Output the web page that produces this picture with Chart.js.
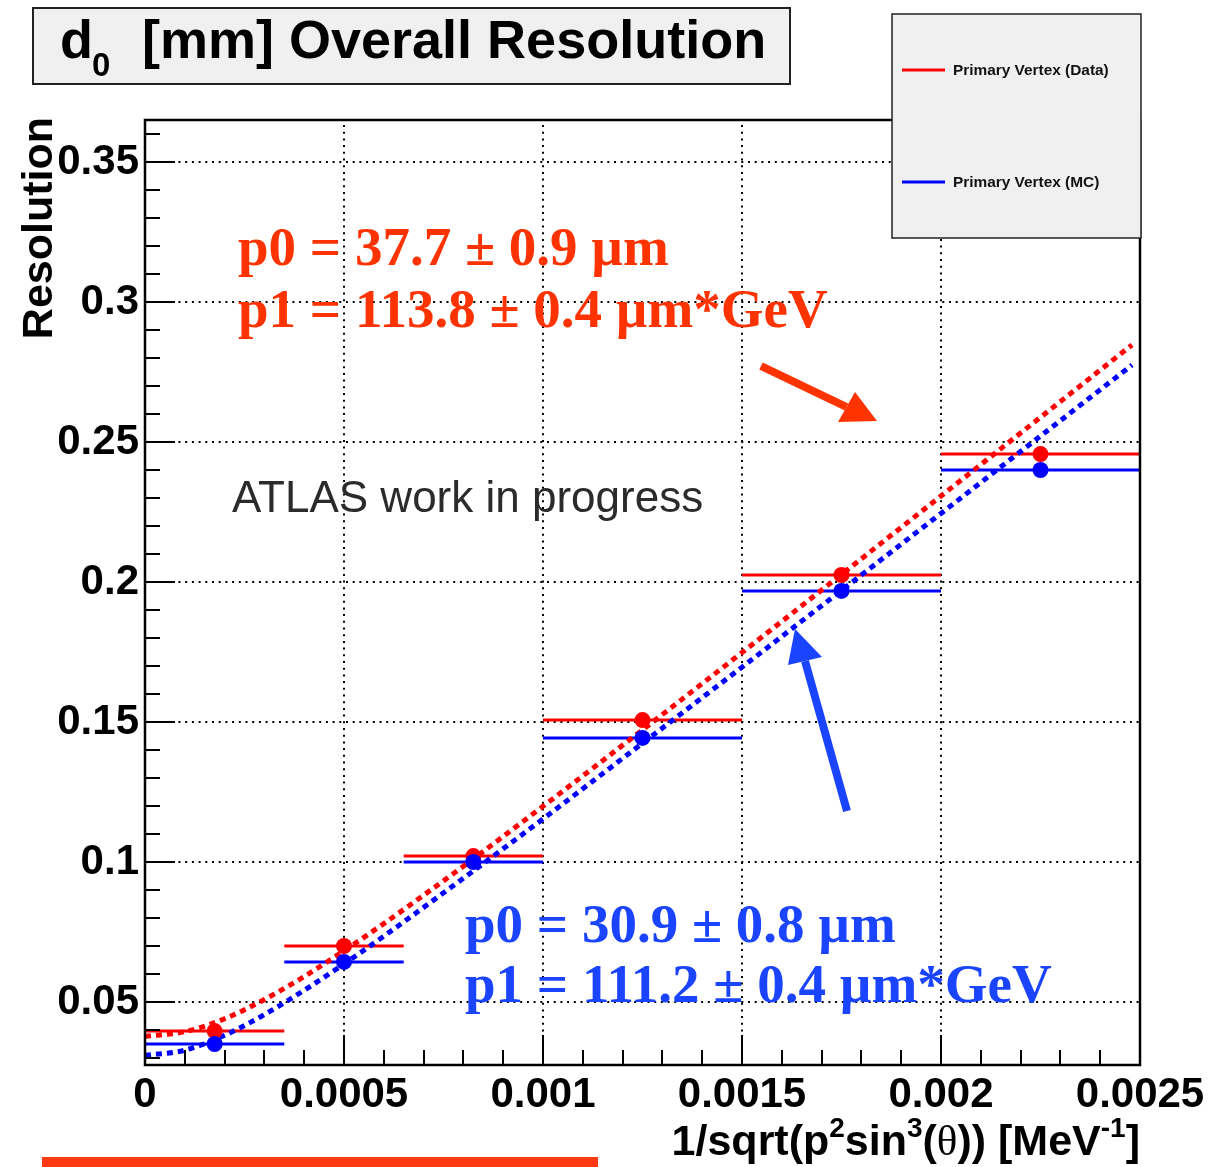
<!DOCTYPE html>
<html><head><meta charset="utf-8">
<script src="https://cdn.jsdelivr.net/npm/chart.js@4.4.1/dist/chart.umd.min.js"></script>
<style>html,body{margin:0;padding:0;background:#fff;}canvas{display:block;}</style>
</head><body>
<canvas id="c" width="1212" height="1167"></canvas>
<script>
// ---- data ----
const binLow    = [0, 0.00035, 0.00065, 0.001, 0.0015, 0.002];
const binHigh   = [0.00035, 0.00065, 0.001, 0.0015, 0.002, 0.0025];
const binCenter = [0.000175, 0.0005, 0.000825, 0.00125, 0.00175, 0.00225];
const dataRes   = [0.0396, 0.0700, 0.1021, 0.1507, 0.2025, 0.2457];
const mcRes     = [0.0350, 0.0643, 0.1000, 0.1443, 0.1968, 0.2400];

const fitX      = [0, 0.0001, 0.0002, 0.0003, 0.0004, 0.0005, 0.0006, 0.0008, 0.001, 0.0012, 0.0015, 0.0018, 0.002, 0.0022, 0.00248];
const dataFit   = [0.0377, 0.0394, 0.0440, 0.0509, 0.0591, 0.0683, 0.0780, 0.0985, 0.1199, 0.1417, 0.1748, 0.2083, 0.2307, 0.2532, 0.2847];
const mcFit     = [0.0309, 0.0328, 0.0381, 0.0455, 0.0542, 0.0636, 0.0735, 0.0942, 0.1154, 0.1370, 0.1696, 0.2025, 0.2245, 0.2466, 0.2775];

const xTickValues = [0, 0.0005, 0.001, 0.0015, 0.002, 0.0025];
const xTickLabels = ['0', '0.0005', '0.001', '0.0015', '0.002', '0.0025'];
const yTickValues = [0.05, 0.1, 0.15, 0.2, 0.25, 0.3, 0.35];
const yTickLabels = ['0.05', '0.1', '0.15', '0.2', '0.25', '0.3', '0.35'];

const seriesNames = ['Primary Vertex (Data)', 'Primary Vertex (MC)'];
const fitTextData = ['p0 = 37.7 ± 0.9 µm', 'p1 = 113.8 ± 0.4 µm*GeV'];
const fitTextMC   = ['p0 = 30.9 ± 0.8 µm', 'p1 = 111.2 ± 0.4 µm*GeV'];
const watermark   = 'ATLAS work in progress';
const yTitle      = 'Resolution';

// ---- styles ----
const RED = '#ff0000', BLUE = '#0000ff';
const RED_TXT = '#ff3300', BLUE_TXT = '#1a44ff';
const SANS = '"Liberation Sans", Arial, Helvetica, sans-serif';
const SERIF = '"Liberation Serif", "Times New Roman", serif';

function binSegments(vals) {
  const out = [];
  vals.forEach((v, i) => {
    out.push({x: binLow[i], y: v});
    out.push({x: binHigh[i], y: v});
    out.push({x: binHigh[i], y: null});
  });
  return out;
}
const pts = vals => vals.map((v, i) => ({x: binCenter[i], y: v}));
const curve = vals => vals.map((v, i) => ({x: fitX[i], y: v}));

function drawArrow(ctx, color, x0, y0, tip, c1, c2) {
  ctx.save();
  ctx.strokeStyle = color; ctx.fillStyle = color; ctx.lineWidth = 8; ctx.lineCap = 'butt';
  const mx = (c1[0] + c2[0]) / 2, my = (c1[1] + c2[1]) / 2;
  ctx.beginPath(); ctx.moveTo(x0, y0); ctx.lineTo(mx, my); ctx.stroke();
  ctx.beginPath(); ctx.moveTo(tip[0], tip[1]); ctx.lineTo(c1[0], c1[1]); ctx.lineTo(c2[0], c2[1]); ctx.closePath(); ctx.fill();
  ctx.restore();
}

const rootPlugin = {
  id: 'rootStyle',
  beforeDraw(chart) {
    const c = chart.ctx; c.save(); c.fillStyle = '#fff'; c.fillRect(0, 0, chart.width, chart.height); c.restore();
  },
  beforeDatasetsDraw(chart) {
    const {ctx, chartArea: a, scales: {x, y}} = chart;
    ctx.save();
    ctx.strokeStyle = '#000'; ctx.lineWidth = 2; ctx.setLineDash([2, 4.7]);
    xTickValues.forEach(v => {
      const px = Math.round(x.getPixelForValue(v));
      ctx.beginPath(); ctx.moveTo(px, a.bottom); ctx.lineTo(px, a.top); ctx.stroke();
    });
    yTickValues.forEach(v => {
      const py = Math.round(y.getPixelForValue(v));
      ctx.beginPath(); ctx.moveTo(a.left, py); ctx.lineTo(a.right, py); ctx.stroke();
    });
    ctx.restore();
  },
  afterDatasetsDraw(chart) {
    const {ctx, chartArea: a, scales: {x, y}} = chart;
    ctx.save();
    // ticks (inside, ROOT style)
    ctx.strokeStyle = '#000'; ctx.lineWidth = 2; ctx.setLineDash([]);
    const xStep = 0.0001, yStep = 0.01;
    for (let k = 1; k < 25; k++) {
      const v = k * xStep;
      const px = Math.round(x.getPixelForValue(v));
      const len = (k % 5 === 0) ? 30 : 15;
      ctx.beginPath(); ctx.moveTo(px, a.bottom); ctx.lineTo(px, a.bottom - len); ctx.stroke();
    }
    for (let k = 3; k <= 36; k++) {
      const v = k * yStep;
      if (v < y.min || v > y.max) continue;
      const py = Math.round(y.getPixelForValue(v));
      const len = (k % 5 === 0) ? 30 : 15;
      ctx.beginPath(); ctx.moveTo(a.left, py); ctx.lineTo(a.left + len, py); ctx.stroke();
    }
    // frame
    ctx.lineWidth = 2.5;
    ctx.strokeRect(a.left, a.top, a.right - a.left, a.bottom - a.top);

    // fit result texts
    ctx.font = 'bold 55px ' + SERIF; ctx.textBaseline = 'alphabetic'; ctx.textAlign = 'left';
    ctx.fillStyle = RED_TXT;
    ctx.fillText(fitTextData[0], 238, 265);
    ctx.fillText(fitTextData[1], 238, 327);
    ctx.fillStyle = BLUE_TXT;
    ctx.fillText(fitTextMC[0], 465, 942);
    ctx.fillText(fitTextMC[1], 465, 1002);

    // arrows
    drawArrow(ctx, RED_TXT, 761, 366, [877, 421], [855, 392], [838, 422]);
    drawArrow(ctx, BLUE_TXT, 847, 811, [795, 629], [788, 665], [822, 657]);

    // watermark
    ctx.font = '44px ' + SANS; ctx.fillStyle = '#2b2b2b';
    ctx.fillText(watermark, 232, 512);

    // legend
    ctx.fillStyle = '#f0f0f0'; ctx.fillRect(892, 14, 249, 224);
    ctx.strokeStyle = '#222'; ctx.lineWidth = 1.5; ctx.strokeRect(892, 14, 249, 224);
    const legY = [70, 182], legC = [RED, BLUE];
    legY.forEach((ly, i) => {
      ctx.strokeStyle = legC[i]; ctx.lineWidth = 3;
      ctx.beginPath(); ctx.moveTo(902, ly); ctx.lineTo(945, ly); ctx.stroke();
      ctx.fillStyle = '#111'; ctx.font = 'bold 15.4px ' + SANS; ctx.textBaseline = 'middle';
      ctx.fillText(seriesNames[i], 953, ly + 1);
    });
    ctx.textBaseline = 'alphabetic';

    // title box
    ctx.fillStyle = '#f0f0f0'; ctx.fillRect(33, 8, 757, 76);
    ctx.strokeStyle = '#222'; ctx.lineWidth = 2; ctx.strokeRect(33, 8, 757, 76);
    ctx.fillStyle = '#000';
    ctx.font = 'bold 54px ' + SANS; ctx.fillText('d', 60, 58);
    ctx.font = 'bold 33px ' + SANS; ctx.fillText('0', 92, 76);
    ctx.font = 'bold 54px ' + SANS; ctx.fillText('[mm] Overall Resolution', 142, 58);

    // y title
    ctx.save();
    ctx.translate(52, 117); ctx.rotate(-Math.PI / 2);
    ctx.font = 'bold 43px ' + SANS; ctx.textAlign = 'right';
    ctx.fillText(yTitle, 0, 0);
    ctx.restore();

    // x title (right aligned at frame edge)
    const main = 'bold 43px ' + SANS, sup = 'bold 28px ' + SANS, th = '43px ' + SERIF;
    const parts = [
      ['1/sqrt(p', main, 0], ['2', sup, -18], ['sin', main, 0], ['3', sup, -18],
      ['(', main, 0], ['\u03b8', th, 0], [')) [MeV', main, 0], ['-1', sup, -18], [']', main, 0]
    ];
    let total = 0;
    parts.forEach(p => { ctx.font = p[1]; total += ctx.measureText(p[0]).width; });
    let cx = a.right - total;
    parts.forEach(p => { ctx.font = p[1]; ctx.fillText(p[0], cx, 1155 + p[2]); cx += ctx.measureText(p[0]).width; });

    // red marker scribble at the bottom
    ctx.fillStyle = '#ff3a12';
    ctx.fillRect(42, 1157, 556, 10);
    ctx.restore();
  }
};

new Chart(document.getElementById('c'), {
  type: 'line',
  data: {
    datasets: [
      {label: 'fitData', data: curve(dataFit), borderColor: RED, borderWidth: 5, borderDash: [6, 5],
       pointRadius: 0, cubicInterpolationMode: 'monotone', order: 5},
      {label: 'fitMC', data: curve(mcFit), borderColor: BLUE, borderWidth: 5, borderDash: [6, 5],
       pointRadius: 0, cubicInterpolationMode: 'monotone', order: 4},
      {label: seriesNames[0], data: binSegments(dataRes), borderColor: RED, borderWidth: 3,
       pointRadius: 0, spanGaps: false, order: 7},
      {label: seriesNames[1], data: binSegments(mcRes), borderColor: BLUE, borderWidth: 3,
       pointRadius: 0, spanGaps: false, order: 6},
      {label: 'dataPts', data: pts(dataRes), showLine: false, pointRadius: 8, pointBackgroundColor: RED,
       pointBorderWidth: 0, borderColor: RED, order: 2},
      {label: 'mcPts', data: pts(mcRes), showLine: false, pointRadius: 8, pointBackgroundColor: BLUE,
       pointBorderWidth: 0, borderColor: BLUE, order: 1}
    ]
  },
  options: {
    responsive: false, animation: false, devicePixelRatio: 1,
    layout: {padding: {left: 0, right: 72, top: 120, bottom: 0}},
    plugins: {legend: {display: false}, tooltip: {enabled: false}, title: {display: false}},
    scales: {
      x: {
        type: 'linear', min: 0, max: 0.0025,
        grid: {display: false, drawTicks: false}, border: {display: false},
        afterBuildTicks: s => { s.ticks = xTickValues.map(v => ({value: v})); },
        afterFit: s => { s.height = 102; },
        ticks: {autoSkip: false, maxRotation: 0, padding: 5, color: '#000',
                font: {family: SANS, weight: 'bold', size: 42},
                callback: (v, i) => xTickLabels[i]}
      },
      y: {
        type: 'linear', min: 0.0275, max: 0.365,
        grid: {display: false, drawTicks: false}, border: {display: false},
        afterBuildTicks: s => { s.ticks = yTickValues.map(v => ({value: v})); },
        afterFit: s => { s.width = 145; },
        ticks: {autoSkip: false, padding: 6, color: '#000',
                font: {family: SANS, weight: 'bold', size: 42},
                callback: (v, i) => yTickLabels[i]}
      }
    }
  },
  plugins: [rootPlugin]
});
</script>
</body></html>
